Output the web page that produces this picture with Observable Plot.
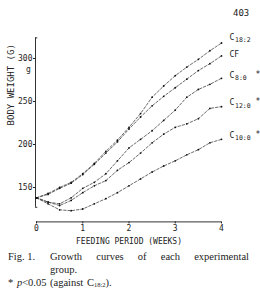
<!DOCTYPE html>
<html>
<head>
<meta charset="utf-8">
<script src="https://cdn.jsdelivr.net/npm/d3@7"></script>
<script src="https://cdn.jsdelivr.net/npm/@observablehq/plot@0.6"></script>
<style>
  html, body { margin: 0; padding: 0; background: #fff; }
  #wrap { position: relative; width: 260px; height: 293px; overflow: hidden; background: #fff; }
  #page { position: absolute; left: 233px; top: 8px; font-family: "DejaVu Sans Mono", monospace; font-size: 9px; color: #222; }
  #cap { font-family: "Liberation Serif", "DejaVu Serif", serif; font-size: 10.5px; color: #222; line-height: 13px; }
  #cap .l1 { display: flex; padding-left: 8px; }
  #cap .fig { width: 42px; flex: none; }
  #cap .txt { width: 199px; text-align: justify; text-align-last: justify; }
  #cap .l2 { padding-left: 50px; }
  #cap .l3 { padding-left: 8px; word-spacing: 1px; }
  #cap sub { font-size: 6.5px; vertical-align: -1px; }
</style>
</head>
<body>
<div id="wrap">
  <div id="page"></div>
  <div id="chart"></div>
  <div id="cap"></div>
</div>
<script>
// ---- data ----
const pageNumber = "403";
const weeks = [0, 0.25, 0.5, 0.75, 1, 1.25, 1.5, 1.75, 2, 2.25, 2.5, 2.75, 3, 3.25, 3.5, 3.75, 4];
const seriesNames = ["C18:2", "CF", "C8:0", "C12:0", "C10:0"];
const c18_2 = [138, 143, 150, 156, 166, 178, 192, 205, 220, 236, 255, 268, 280, 290, 299, 309, 318];
const cf    = [138, 142, 149, 155, 165, 177, 190, 203, 218, 232, 245, 256, 266, 276, 286, 294, 303];
const c8_0  = [138, 133, 131, 138, 149, 156, 166, 181, 196, 206, 216, 228, 240, 255, 264, 270, 277];
const c12_0 = [138, 133, 129, 135, 144, 152, 158, 170, 179, 190, 202, 212, 220, 224, 230, 242, 244];
const c10_0 = [138, 131, 124, 123, 125, 131, 137, 144, 152, 160, 168, 175, 181, 188, 194, 202, 206];
const labelMain = ["C", "CF", "C", "C", "C"];
const labelSub  = ["18:2", "", "8:0", "12:0", "10:0"];
const labelStar = ["", "", "*", "*", "*"];
const xTicks = [0, 1, 2, 3, 4];
const yTicks = [150, 200, 250, 300];
const yUnit = "g";
const yTitle = "BODY WEIGHT (G)";
const xTitle = "FEEDING PERIOD (WEEKS)";
const captionFig = "Fig. 1.";
const captionText = "Growth curves of each experimental";
const captionText2 = "group.";
const captionNote = ["* ", "p", "<0.05 (against C", "18:2", ")."];

// ---- build table ----
const seriesValues = [c18_2, cf, c8_0, c12_0, c10_0];
const data = [];
seriesNames.forEach((s, i) => weeks.forEach((w, j) => data.push({series: s, week: w, weight: seriesValues[i][j]})));
const ends = seriesNames.map((s, i) => ({series: s, week: weeks[weeks.length - 1], weight: seriesValues[i][weeks.length - 1],
  main: labelMain[i], sub: labelSub[i], star: labelStar[i]}));
const labelDy = [-5, 0, -2, -3, -3];

const yMin = 110, yMax = 325;
const font = "DejaVu Sans Mono, monospace";

const labelMarks = [];
ends.forEach((e, i) => {
  labelMarks.push(Plot.text([e], {x: "week", y: "weight", text: "main", dx: 8, dy: labelDy[i] - 1, textAnchor: "start", fontSize: 8, fill: "#222"}));
  if (e.sub) labelMarks.push(Plot.text([e], {x: "week", y: "weight", text: "sub", dx: 13.5, dy: labelDy[i] + 2, textAnchor: "start", fontSize: 6.5, fill: "#222"}));
  if (e.star) labelMarks.push(Plot.text([e], {x: "week", y: "weight", text: "star", dx: 34, dy: labelDy[i] - 2, textAnchor: "start", fontSize: 8, fill: "#222"}));
});

const chart = Plot.plot({
  width: 260,
  height: 250,
  marginLeft: 36,
  marginRight: 39,
  marginTop: 36.5,
  marginBottom: 28.6,
  x: {domain: [0, 4]},
  y: {domain: [yMin, yMax]},
  style: {fontFamily: font, fontSize: "8px", color: "#222", background: "white", overflow: "visible"},
  marks: [
    // y axis line with end hooks
    Plot.ruleX([0], {y1: 127, y2: 324, dx: -1, stroke: "#333", strokeWidth: 1}),
    Plot.ruleY([127, 324], {x1: 0, x2: 0.05, dx: -1, stroke: "#333", strokeWidth: 1}),
    Plot.axisY({ticks: yTicks, tickSize: 2, tickPadding: 1, label: null, fontSize: 8, dx: -1}),
    Plot.text([yUnit], {x: 0, y: 300, dx: -8, dy: 11, fontSize: 8, fill: "#222"}),
    Plot.text([yTitle], {frameAnchor: "left", dx: -25, dy: -4, rotate: -90, fontSize: 9, fill: "#222"}),
    // x axis
    Plot.ruleY([yMin], {x1: 0, x2: 4, stroke: "#333", strokeWidth: 1}),
    Plot.axisX({ticks: xTicks, tickSize: 2, tickPadding: 1, label: null, fontSize: 8, tickFormat: d => String(d)}),
    Plot.text([xTitle], {frameAnchor: "bottom", dy: 22, fontSize: 8, fill: "#222"}),
    // growth curves
    Plot.line(data, {x: "week", y: "weight", z: "series", stroke: "#444", strokeWidth: 0.8, strokeDasharray: "2.5,1.8", curve: "linear"}),
    Plot.dot(data, {x: "week", y: "weight", r: 0.9, fill: "#111", stroke: null}),
    ...labelMarks
  ]
});
document.getElementById("chart").appendChild(chart);

document.getElementById("page").textContent = pageNumber;
const cap = document.getElementById("cap");
cap.innerHTML =
  `<div class="l1"><span class="fig"></span><span class="txt"></span></div>` +
  `<div class="l2"></div>` +
  `<div class="l3"></div>`;
cap.querySelector(".fig").textContent = captionFig;
cap.querySelector(".txt").textContent = captionText;
cap.querySelector(".l2").textContent = captionText2;
const l3 = cap.querySelector(".l3");
l3.append(captionNote[0]);
const it = document.createElement("i"); it.textContent = captionNote[1]; l3.append(it);
l3.append(captionNote[2]);
const sb = document.createElement("sub"); sb.textContent = captionNote[3]; l3.append(sb);
l3.append(captionNote[4]);
</script>
</body>
</html>
